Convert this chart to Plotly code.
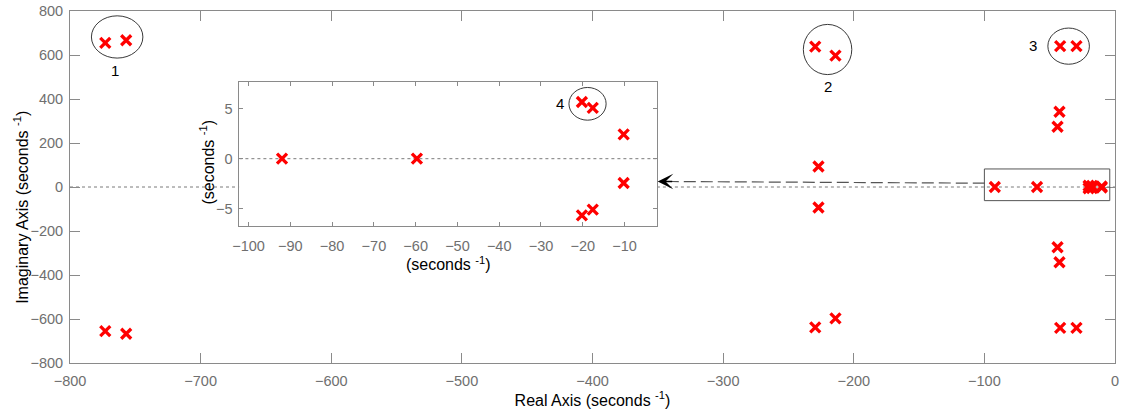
import plotly.graph_objects as go

# ---- data: pole locations (real, imaginary) ----
poles_re = [-773, -757, -773, -757, -229.5, -214, -229.5, -214, -42, -29.5, -42, -29.5,
            -42.5, -44, -44, -42.5, -227, -227, -92, -59.7, -20.2, -17.6, -20.2, -17.6,
            -10.2, -10.2]
poles_im = [655, 667, -655, -667, 638, 597, -638, -597, 640, 640, -640, -640,
            342, 274, -274, -342, 93, -93, 0, 0, 5.65, 5.07, -5.65, -5.07,
            2.42, -2.42]

main_xticks = [-800, -700, -600, -500, -400, -300, -200, -100, 0]
main_yticks = [-800, -600, -400, -200, 0, 200, 400, 600, 800]
inset_xticks = [-100, -90, -80, -70, -60, -50, -40, -30, -20, -10]
inset_yticks = [-5, 0, 5]

AX = '#8a8a8a'
TK = '#6f6f6f'
FONT = 'Liberation Sans, Arial, sans-serif'
TICK_SIZE = 14.5
TITLE_SIZE = 16

fig = go.Figure()

# zero reference lines (main split around inset, inset full)
fig.add_trace(go.Scatter(x=[-800, -670.4, None, -350.7, 0], y=[0, 0, None, 0, 0],
                         mode='lines', line=dict(color='#7a7a7a', width=1, dash='dot'),
                         hoverinfo='skip', showlegend=False, xaxis='x', yaxis='y'))
fig.add_trace(go.Scatter(x=[-102.2, -2.2], y=[0, 0], mode='lines',
                         line=dict(color='#7a7a7a', width=1, dash='dot'),
                         hoverinfo='skip', showlegend=False, xaxis='x2', yaxis='y2'))

mk = dict(symbol='x-thin', size=10, color='red', line=dict(width=3.3, color='red'))
fig.add_trace(go.Scatter(x=poles_re, y=poles_im, mode='markers', marker=mk,
                         showlegend=False, xaxis='x', yaxis='y'))
fig.add_trace(go.Scatter(x=poles_re, y=poles_im, mode='markers', marker=mk,
                         showlegend=False, xaxis='x2', yaxis='y2'))

axis_common = dict(showline=True, linecolor=AX, linewidth=1, mirror='ticks',
                   ticks='inside', tickcolor=AX, showgrid=False, zeroline=False,
                   ticklabeloverflow='allow',
                   tickfont=dict(family=FONT, size=TICK_SIZE, color=TK))

title_font = dict(family=FONT, size=TITLE_SIZE, color='black')

fig.update_layout(
    width=1122, height=417,
    margin=dict(l=70, r=3, t=10, b=54),
    paper_bgcolor='white', plot_bgcolor='white',
    font=dict(family=FONT, color='black'),
    xaxis=dict(domain=[0, 1], range=[-800, 0], tickvals=main_xticks, ticklen=10,
               ticklabelstandoff=5,
               title=dict(text='Real Axis (seconds <sup>-1</sup>)', font=title_font, standoff=6),
               anchor='y', **axis_common),
    yaxis=dict(domain=[0, 1], range=[-800, 800], tickvals=main_yticks, ticklen=10,
               ticklabelstandoff=3, anchor='x', **axis_common),
    xaxis2=dict(domain=[0.1621, 0.5618], range=[-102.2, -2.2], tickvals=inset_xticks,
                ticklen=4, ticklabelstandoff=6,
                title=dict(text='(seconds <sup>-1</sup>)', font=title_font, standoff=5),
                anchor='y2', **axis_common),
    yaxis2=dict(domain=[0.3886, 0.797], range=[-6.73, 7.6], tickvals=inset_yticks,
                ticklen=4, ticklabelstandoff=3, anchor='x2', **axis_common),
)

ell = dict(type='circle', line=dict(color='#222', width=0.9), fillcolor='rgba(0,0,0,0)')
shapes = [
    dict(xref='x', yref='y', x0=-783.6, x1=-744.2, y0=586, y1=778, **ell),
    dict(xref='x', yref='y', x0=-238.6, x1=-201.5, y0=511, y1=739, **ell),
    dict(xref='x', yref='y', x0=-51.4, x1=-19.6, y0=558, y1=722.5, **ell),
    dict(xref='x2', yref='y2', x0=-23.3, x1=-14.4, y0=3.84, y1=7.1, **ell),
    dict(type='rect', xref='x', yref='y', x0=-100, x1=-4, y0=-62, y1=82,
         line=dict(color='#555', width=1)),
    dict(type='line', xref='paper', yref='paper', x0=0.8754, y0=0.5108, x1=0.5760, y1=0.5156,
         line=dict(color='#555', width=1.2, dash='12px,5px')),
]
fig.update_layout(shapes=shapes)

# y-axis titles (placed as rotated annotations to match the offset position)
fig.add_annotation(x=-0.047, y=0.4433, xref='paper', yref='paper', textangle=-90,
                   xanchor='center', yanchor='middle', showarrow=False,
                   text='Imaginary Axis (seconds <sup>-1</sup>)', font=title_font)
fig.add_annotation(x=0.1316, y=0.5708, xref='paper', yref='paper', textangle=-90,
                   xanchor='center', yanchor='middle', showarrow=False,
                   text='(seconds <sup>-1</sup>)', font=title_font)

lbl = dict(showarrow=False, font=dict(family=FONT, size=15, color='black'))
fig.add_annotation(x=-765.7, y=528, xref='x', yref='y', text='1', **lbl)
fig.add_annotation(x=-219.8, y=459, xref='x', yref='y', text='2', **lbl)
fig.add_annotation(x=-62.5, y=643, xref='x', yref='y', text='3', **lbl)
fig.add_annotation(x=-25.4, y=5.53, xref='x2', yref='y2', text='4', **lbl)
# arrow head touching the inset edge
fig.add_annotation(x=0.5624, y=0.5156, xref='paper', yref='paper', ax=16, ay=0,
                   text='', showarrow=True, arrowhead=3, arrowsize=2.0, arrowwidth=1.3,
                   arrowcolor='#000', standoff=0)

fig.write_html('out.html', config={'displayModeBar': False},
               post_script="document.body.style.margin='0';")
